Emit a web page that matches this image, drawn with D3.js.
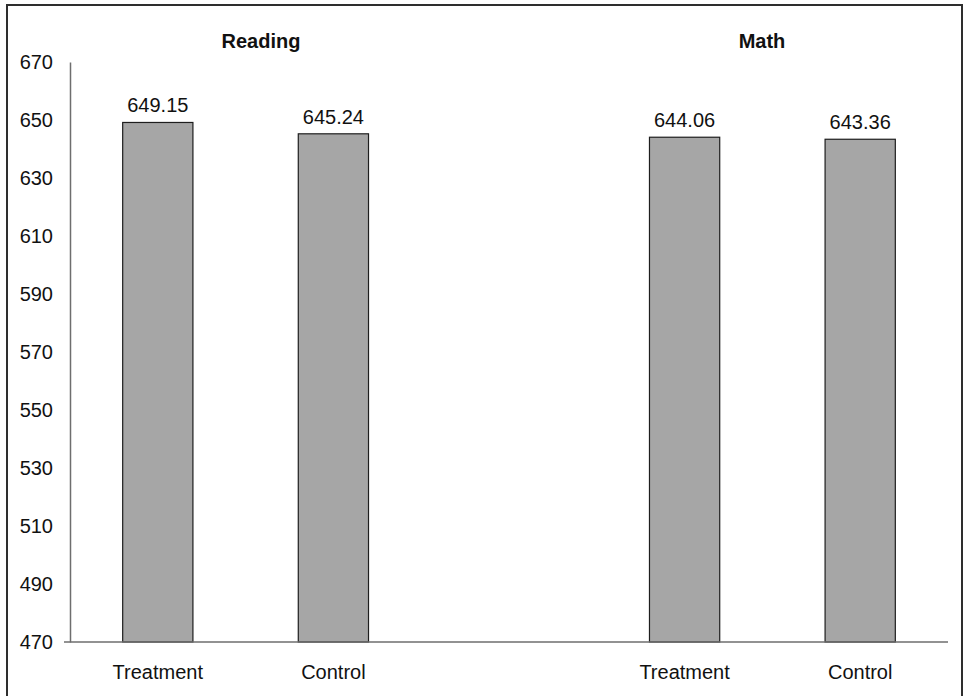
<!DOCTYPE html>
<html>
<head>
<meta charset="utf-8">
<script src="https://cdn.jsdelivr.net/npm/d3@7"></script>
<style>
  html, body { margin: 0; padding: 0; background: #fff; }
  svg { display: block; }
  text { font-family: "Liberation Sans", Arial, Helvetica, sans-serif; fill: #111; }
</style>
</head>
<body>
<svg id="chart" width="964" height="696"></svg>
<script>
// Mean scale scores by subject and study group
const subjects = ["Reading", "Math"];
const groups = ["Treatment", "Control"];
const readingScores = [649.15, 645.24];
const mathScores = [644.06, 643.36];
const yTickValues = [470, 490, 510, 530, 550, 570, 590, 610, 630, 650, 670];

const FONT = 20;
const svg = d3.select("#chart");

// Frame around the whole figure
svg.append("rect")
  .attr("x", 7).attr("y", 5)
  .attr("width", 955).attr("height", 705)
  .attr("fill", "none")
  .attr("stroke", "#2e2e2e")
  .attr("stroke-width", 2);

// Build rows: each subject's bars, with an empty slot between the subjects
const scoreSets = { Reading: readingScores, Math: mathScores };
const rows = [];
subjects.forEach(s => {
  groups.forEach((g, i) => rows.push({ key: s + "|" + g, subject: s, group: g, value: scoreSets[s][i] }));
});
const slots = [rows[0].key, rows[1].key, "spacer", rows[2].key, rows[3].key];

const plot = { left: 70, right: 948, top: 62, bottom: 642 };

const x = d3.scaleBand().domain(slots).range([plot.left, plot.right]).padding(0);
const y = d3.scaleLinear().domain([470, 670]).range([plot.bottom, plot.top]);
const barW = x.bandwidth() * 0.4;

// Y axis
const yAxis = svg.append("g")
  .attr("transform", `translate(${plot.left},0)`)
  .call(d3.axisLeft(y).tickValues(yTickValues).tickSize(0).tickSizeOuter(0).tickPadding(17).tickFormat(d3.format("d")));
yAxis.select(".domain").attr("stroke", "#6e6e6e").attr("stroke-width", 1.5);
yAxis.selectAll(".tick text")
  .attr("font-size", FONT)
  .attr("font-family", "Liberation Sans, Arial, sans-serif")
  .attr("fill", "#111");

// Bars
svg.append("g").selectAll("rect")
  .data(rows)
  .join("rect")
  .attr("x", d => x(d.key) + (x.bandwidth() - barW) / 2)
  .attr("y", d => y(d.value))
  .attr("width", barW)
  .attr("height", d => y(470) - y(d.value))
  .attr("fill", "#a6a6a6")
  .attr("stroke", "#1e1e1e")
  .attr("stroke-width", 1.2);

// Value labels above bars
svg.append("g").selectAll("text")
  .data(rows)
  .join("text")
  .attr("x", d => x(d.key) + x.bandwidth() / 2)
  .attr("y", d => y(d.value) - 10)
  .attr("text-anchor", "middle")
  .attr("font-size", FONT)
  .text(d => d3.format(".2f")(d.value));

// X axis (category labels, no ticks)
const xAxis = svg.append("g")
  .attr("transform", `translate(0,${plot.bottom})`)
  .call(d3.axisBottom(x)
    .tickValues(rows.map(d => d.key))
    .tickSize(0)
    .tickPadding(23)
    .tickFormat(k => k.split("|")[1]));
xAxis.select(".domain").remove();
xAxis.selectAll(".tick text")
  .attr("font-size", FONT)
  .attr("font-family", "Liberation Sans, Arial, sans-serif")
  .attr("fill", "#111");

// Baseline extends slightly left of the value axis
svg.append("line")
  .attr("x1", plot.left - 6).attr("x2", plot.right)
  .attr("y1", y(470)).attr("y2", y(470))
  .attr("stroke", "#6e6e6e")
  .attr("stroke-width", 1.5);

// Subject headings
const titleX = { Reading: 261, Math: 762 };
svg.append("g").selectAll("text")
  .data(subjects)
  .join("text")
  .attr("x", d => titleX[d])
  .attr("y", 48)
  .attr("text-anchor", "middle")
  .attr("font-size", FONT)
  .attr("font-weight", "bold")
  .text(d => d);
</script>
</body>
</html>
